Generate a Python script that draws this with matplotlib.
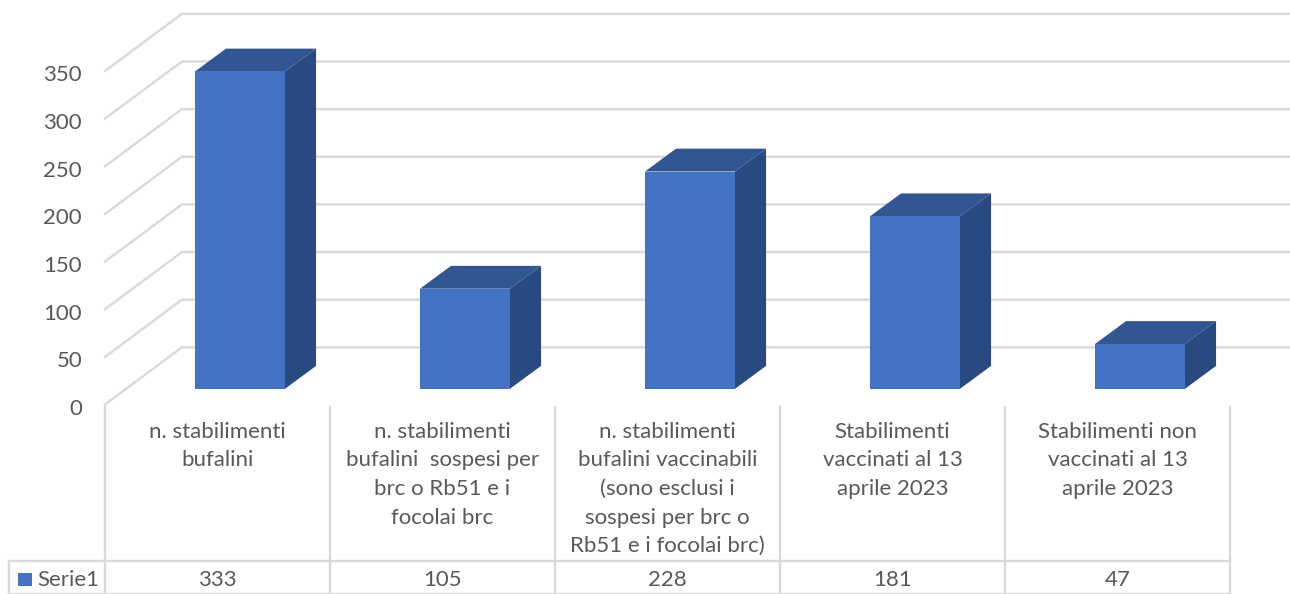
#!/usr/bin/env python

import matplotlib
matplotlib.use('Agg')
import matplotlib.pyplot as plt
import numpy as np

categories = ['n. stabilimenti\nbufalini',
              'n. stabilimenti\nbufalini  sospesi per\nbrc o Rb51 e i\nfocolai brc',
              'n. stabilimenti\nbufalini vaccinabili\n(sono esclusi i\nsospesi per brc o\nRb51 e i focolai brc)',
              'Stabilimenti\nvaccinati al 13\naprile 2023',
              'Stabilimenti non\nvaccinati al 13\naprile 2023']
values = [333, 105, 228, 181, 47]
yticks = [0, 50, 100, 150, 200, 250, 300, 350]
series = 'Serie1'

GRID = '#d9d9d9'
TEXT = '#595959'
FRONT = '#4472c4'
TOP = '#325594'
SIDE = '#294a80'
FS = 16
LW = 1.7

plt.rcParams['font.family'] = ['Lato', 'DejaVu Sans']

# depth of the oblique projection, in data units
wall_dx, wall_dy = 0.342, 60.
bar_dx, bar_dy = 0.1, 16.5
depth_dx, depth_dy = 0.138, 24.
bar_w = 0.4

def main():
    fig = plt.figure(figsize=(12.9, 5.94), dpi=100)
    ax = fig.add_axes([105/1290, (594-404.5)/594, 1125/1290, 333.5/594])
    ax.set_xlim(0, 5)
    ax.set_ylim(0, 350)
    ax.axis('off')

    # walls
    for t in yticks:
        ax.plot([0, wall_dx, 5.267], [t, t+wall_dy, t+wall_dy], color=GRID, lw=LW,
                clip_on=False, zorder=1, solid_joinstyle='miter')
        ax.text(-0.102, t-4.5, str(t), ha='right', va='center', fontsize=FS, color=TEXT)

    # bars
    for i, v in enumerate(values):
        x0 = i + 0.5 - bar_w/2 + bar_dx
        x1 = x0 + bar_w
        y0 = bar_dy
        y1 = y0 + v
        ax.bar(x0, v, bar_w, bottom=y0, align='edge', color=FRONT, zorder=4, clip_on=False)
        ax.fill([x0, x1, x1+depth_dx, x0+depth_dx], [y1, y1, y1+depth_dy, y1+depth_dy],
                color=TOP, lw=0, zorder=3, clip_on=False)
        ax.fill([x1, x1+depth_dx, x1+depth_dx, x1], [y0, y0+depth_dy, y1+depth_dy, y1],
                color=SIDE, lw=0, zorder=3, clip_on=False)

    # data table below the axis
    row_top, row_bot = -164., -198.5
    for i in range(6):
        ax.plot([i, i], [-2.5, row_bot], color=GRID, lw=LW, clip_on=False, zorder=1)
    ax.plot([-0.427, 5], [row_top, row_top], color=GRID, lw=LW, clip_on=False, zorder=1)
    ax.plot([-0.427, 5], [row_bot, row_bot], color=GRID, lw=LW, clip_on=False, zorder=1)
    ax.plot([-0.427, -0.427], [row_top, row_bot], color=GRID, lw=LW, clip_on=False, zorder=1)

    for i, v in enumerate(values):
        ax.text(i+0.5, -18, categories[i], ha='center', va='top', fontsize=FS, color=TEXT,
                linespacing=1.54)
        ax.text(i+0.5, -184.5, str(v), ha='center', va='center', fontsize=FS, color=TEXT)

    ax.bar(-0.387, 13.6, 0.062, bottom=-190.5, align='edge', color=FRONT, clip_on=False)
    ax.text(-0.302, -184.5, series, ha='left', va='center', fontsize=FS, color=TEXT)

    fig.savefig('out.png', dpi=100)

if __name__ == "__main__":
    main()
